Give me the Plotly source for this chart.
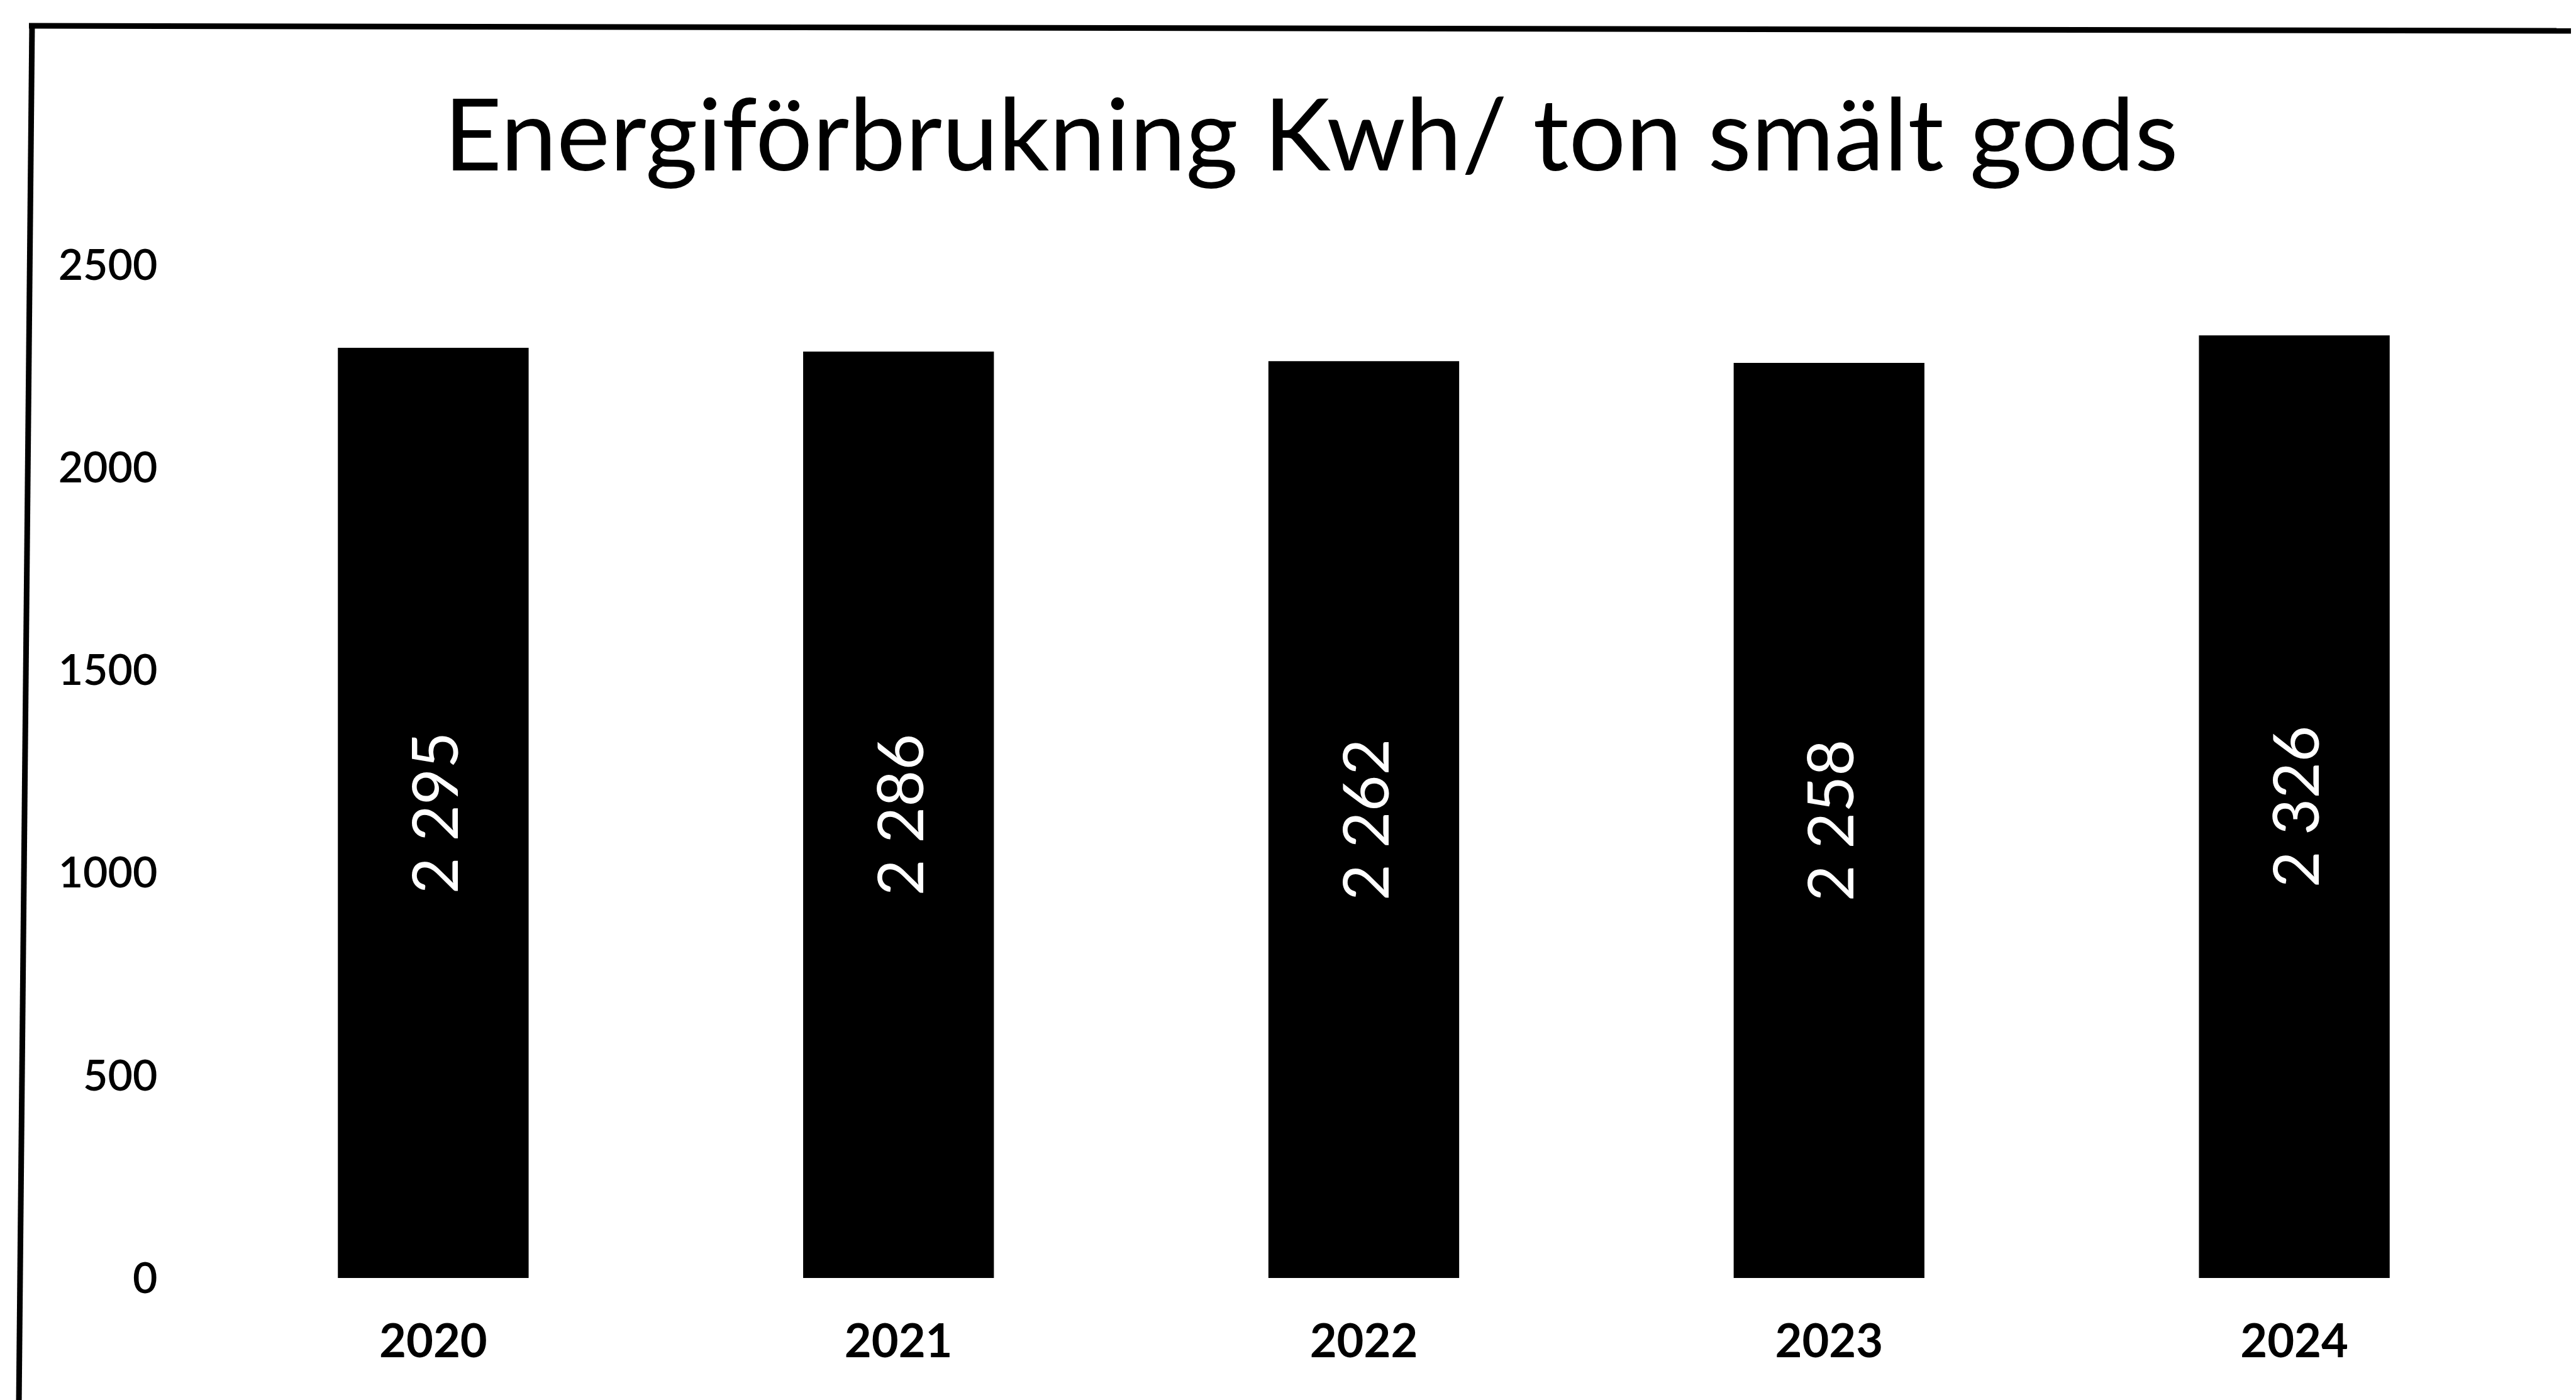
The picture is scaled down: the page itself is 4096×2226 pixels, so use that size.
import plotly.graph_objects as go

years = ["2020", "2021", "2022", "2023", "2024"]
values = [2295, 2286, 2262, 2258, 2326]
y_ticks = [0, 500, 1000, 1500, 2000, 2500]
title_text = "Energiförbrukning Kwh/ ton smält gods"

labels = [f"{v:,}".replace(",", " ") for v in values]

W, H = 4096, 2226
ML, MR, MT, MB = 311, 86, 413, 202
FONT = "Lato"

fig = go.Figure(go.Bar(
    x=years, y=values, text=labels,
    textposition="inside", insidetextanchor="middle", textangle=-90,
    textfont=dict(family=FONT, size=100, color="white"),
    marker=dict(color="black", line=dict(width=0)),
    width=0.41,
))

pw = W - ML - MR
ph = H - MT - MB
def px_x(p):
    return (p - ML) / pw
def px_y(p):
    return (H - MB - p) / ph

# scanned frame: top edge and left edge
fig.add_shape(type="line", xref="paper", yref="paper",
              x0=px_x(38), x1=px_x(W), y0=px_y(33), y1=px_y(41),
              line=dict(color="black", width=9))
fig.add_shape(type="line", xref="paper", yref="paper",
              x0=px_x(43), x1=px_x(22), y0=px_y(29), y1=px_y(H),
              line=dict(color="black", width=9))

fig.update_layout(
    width=W, height=H,
    margin=dict(l=ML, r=MR, t=MT, b=MB),
    paper_bgcolor="white", plot_bgcolor="white",
    showlegend=False,
    title=dict(text=title_text, x=0.507, xanchor="center", y=1 - 207 / H, yanchor="middle",
               font=dict(family=FONT, size=160, color="black")),
    xaxis=dict(showgrid=False, zeroline=False, showline=False,
               ticks="outside", ticklen=36, tickcolor="rgba(0,0,0,0)",
               tickfont=dict(family=FONT, size=74, color="black", weight="bold")),
    yaxis=dict(range=[0, 2500], tickvals=y_ticks, showgrid=False, zeroline=False, showline=False,
               ticks="outside", ticklen=54, tickcolor="rgba(0,0,0,0)",
               tickfont=dict(family=FONT, size=68, color="black", weight=600)),
)

fig.write_html("out.html")
